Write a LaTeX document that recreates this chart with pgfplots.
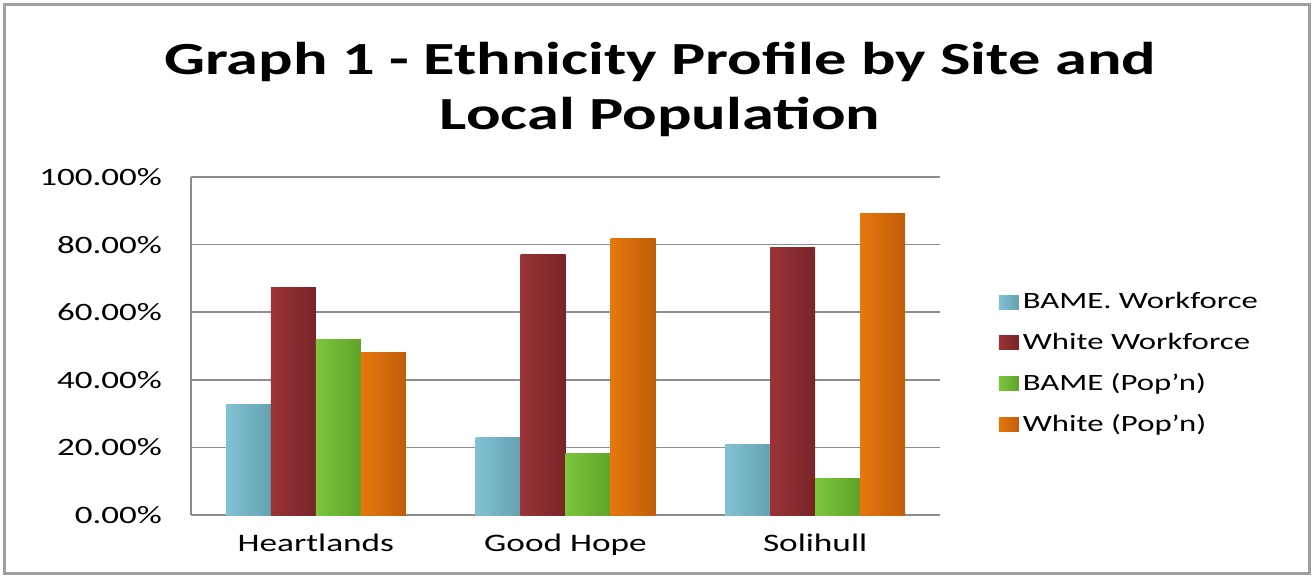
\documentclass[border=0pt]{standalone}
\usepackage{pgfplots}
\pgfplotsset{compat=1.18}
\usepackage{fontspec}
\setmainfont{Carlito}[FakeStretch=1.4]
\definecolor{bwmid}{HTML}{95D5E6}
\definecolor{bwdark}{HTML}{4A8797}
\definecolor{wwmid}{HTML}{B03C40}
\definecolor{wwdark}{HTML}{5A181B}
\definecolor{bpmid}{HTML}{8EDC48}
\definecolor{bpdark}{HTML}{46841A}
\definecolor{wpmid}{HTML}{FF8714}
\definecolor{wpdark}{HTML}{9E4700}
\definecolor{gridg}{HTML}{8C8C8C}
\pgfplotsset{
  bw/.style={draw=none, bar shift=-33.75pt, left color=bwmid!75!bwdark, middle color=bwmid, right color=bwmid!35!bwdark},
  ww/.style={draw=none, bar shift=-11.25pt, left color=wwmid!75!wwdark, middle color=wwmid, right color=wwmid!35!wwdark},
  bp/.style={draw=none, bar shift=11.25pt, left color=bpmid!75!bpdark, middle color=bpmid, right color=bpmid!35!bpdark},
  wp/.style={draw=none, bar shift=33.75pt, left color=wpmid!75!wpdark, middle color=wpmid, right color=wpmid!35!wpdark},
}
\begin{document}
\begin{tikzpicture}
\path[use as bounding box] (0pt,0pt) rectangle (658pt,289pt);
\draw[gray!75, line width=1.5pt] (2pt,2.5pt) rectangle (654.5pt,286.5pt);
\node[anchor=base, font=\fontsize{23}{27}\selectfont\bfseries] at (330pt,251.5pt) {Graph 1 - Ethnicity Profile by Site and};
\node[anchor=base, font=\fontsize{23}{27}\selectfont\bfseries] at (330pt,224pt) {Local Population};
\begin{axis}[
  at={(95.5pt,31.5pt)}, anchor=south west,
  scale only axis, width=374.5pt, height=169pt,
  xmin=-0.5, xmax=2.5, ymin=0, ymax=100,
  ybar=0pt, bar width=22.5pt,
  xtick={0,1,2}, xticklabels={Heartlands, Good Hope, Solihull},
  ytick={0,20,40,60,80,100},
  yticklabels={0.00\%,20.00\%,40.00\%,60.00\%,80.00\%,100.00\%},
  major tick length=0pt,
  axis x line*=bottom, axis y line*=left,
  axis line style={gridg, line width=0.8pt, -},
  ymajorgrids, grid style={gridg, line width=0.8pt},
  xticklabel style={font=\fontsize{12.6}{15}\selectfont, yshift=-6pt},
  yticklabel style={font=\fontsize{12.5}{15}\selectfont, xshift=-11pt},
  legend style={at={(1.07,0.448)}, anchor=west, draw=none, fill=none,
    font=\fontsize{11.7}{14}\selectfont, row sep=6.5pt},
  legend cell align=left,
  legend image code/.code={\path[#1, draw=none] (0pt,-3.5pt) rectangle (10pt,3.5pt);},
  clip=false,
]
% Heartlands (legend entries)
\addplot[bw] coordinates {(0,32.7)};
\addplot[ww] coordinates {(0,67.3)};
\addplot[bp] coordinates {(0,52.0)};
\addplot[wp] coordinates {(0,48.0)};
% Good Hope
\addplot[bw, forget plot] coordinates {(1,23.0)};
\addplot[ww, forget plot] coordinates {(1,77.0)};
\addplot[bp, forget plot] coordinates {(1,18.3)};
\addplot[wp, forget plot] coordinates {(1,81.7)};
% Solihull
\addplot[bw, forget plot] coordinates {(2,21.0)};
\addplot[ww, forget plot] coordinates {(2,79.0)};
\addplot[bp, forget plot] coordinates {(2,10.8)};
\addplot[wp, forget plot] coordinates {(2,89.2)};
\legend{BAME. Workforce, White Workforce, BAME (Pop'n), White (Pop'n)}
\end{axis}
\end{tikzpicture}
\end{document}
